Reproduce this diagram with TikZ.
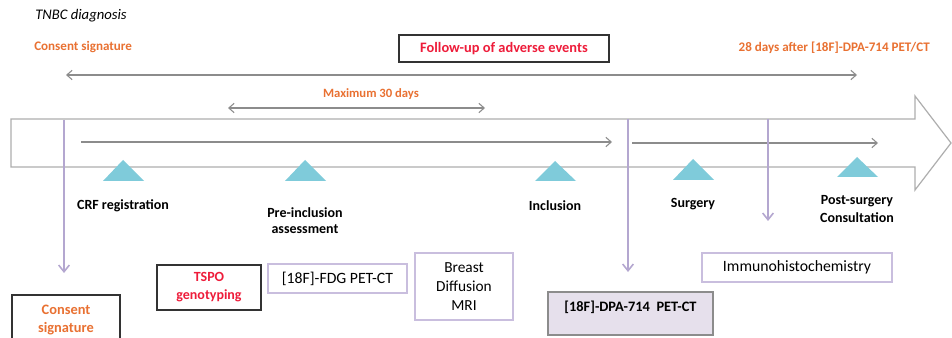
\documentclass[tikz,border=0pt]{standalone}
\usepackage{fontspec}
\setmainfont{Carlito}
\usetikzlibrary{arrows.meta}
\definecolor{orng}{HTML}{E97132}
\definecolor{redt}{HTML}{EE1C3A}
\definecolor{purp}{HTML}{B4A7D0}
\definecolor{purpbox}{HTML}{C9BEDE}
\definecolor{tri}{HTML}{7FCBDA}
\definecolor{gline}{HTML}{8C8C8C}
\definecolor{dpafill}{HTML}{E6E0EC}
\tikzset{
  lbl/.style={font=\fontsize{10.5}{12.5}\selectfont\bfseries, align=center, inner sep=0pt},
  otext/.style={font=\fontsize{9.8}{11}\selectfont\bfseries, text=orng, inner sep=0pt},
  gar/.style={draw=gline, line width=0.8pt, -{Straight Barb[length=4pt,width=7pt]}},
  gdar/.style={draw=gline, line width=0.8pt, {Straight Barb[length=4pt,width=7pt]}-{Straight Barb[length=4pt,width=7pt]}},
  par/.style={draw=purp, line width=1.2pt, -{Straight Barb[length=5pt,width=8pt]}},
  tribox/.style={fill=tri, draw=none},
  pbox/.style={draw=purpbox, line width=0.9pt, align=center, inner sep=0pt, font=\fontsize{11.8}{14}\selectfont},
  kbox/.style={draw=black!80, line width=1pt, align=center, inner sep=0pt},
}
\begin{document}
\begin{tikzpicture}[x=0.75pt,y=-0.75pt]
\clip (0,0) rectangle (952,338);
\fill[white] (0,0) rectangle (952,338);
% big timeline arrow
\draw[gline!70, line width=0.9pt] (11,119) -- (915,119) -- (915,96) -- (951,143) -- (915,190) -- (915,167) -- (11,167) -- cycle;
% top texts
\node[font=\fontsize{11}{12}\selectfont\itshape, anchor=west, inner sep=0pt] (tnbc) at (35,16) {TNBC diagnosis};
\node[otext, anchor=west] (cons) at (34,47) {Consent signature};
\node[otext, anchor=east] (d28) at (930,48) {28 days after [18F]-DPA-714 PET/CT};
\node[kbox, minimum width=157.5pt, minimum height=20.25pt, font=\fontsize{10.8}{12}\selectfont\bfseries, text=redt] (follow) at (504,48.5) {Follow-up of adverse events};
\node[otext, font=\fontsize{9.5}{11}\selectfont\bfseries] (max30) at (371,94) {Maximum 30 days};
% double arrows
\coordinate (da1) at (66,75);
\coordinate (da2) at (857,75);
\draw[gdar] (da1) -- (da2);
\coordinate (db1) at (228,108);
\coordinate (db2) at (485,108);
\draw[gdar] (db1) -- (db2);
% inner arrows
\coordinate (ia1) at (81,142);
\coordinate (ia2) at (612,142);
\draw[gar] (ia1) -- (ia2);
\coordinate (ib1) at (632,143);
\coordinate (ib2) at (878,143);
\draw[gar] (ib1) -- (ib2);
% triangles
\fill[tribox] (103,181) -- (123,160) -- (144,181) -- cycle;
\fill[tribox] (285,181) -- (305,160) -- (326,181) -- cycle;
\fill[tribox] (535,181) -- (555,161) -- (576,181) -- cycle;
\fill[tribox] (673,180) -- (693,159) -- (714,180) -- cycle;
\fill[tribox] (837,177) -- (857,157) -- (878,177) -- cycle;
% labels
\node[lbl] (crf) at (123,206) {CRF registration};
\node[lbl, font=\fontsize{10.5}{12}\selectfont\bfseries] (pre) at (305,221) {Pre-inclusion\\assessment};
\node[lbl] (inc) at (555,206) {Inclusion};
\node[lbl] (surg) at (693,204) {Surgery};
\node[lbl, font=\fontsize{10.5}{13.5}\selectfont\bfseries] (post) at (857,209) {Post-surgery\\Consultation};
% bottom boxes
\node[kbox, minimum width=81pt, minimum height=37.5pt, font=\fontsize{10.8}{12.8}\selectfont\bfseries, text=orng] (cbox) at (66,320) {Consent\\signature};
\node[kbox, minimum width=78pt, minimum height=33.75pt, font=\fontsize{10.5}{13.5}\selectfont\bfseries, text=redt] (tspo) at (209,287.5) {TSPO\\genotyping};
\node[pbox, minimum width=104.25pt, minimum height=21.75pt] (fdg) at (337.5,278.5) {[18F]-FDG PET-CT};
\node[pbox, minimum width=73.5pt, minimum height=50.25pt, font=\fontsize{11.5}{14}\selectfont] (mri) at (464,286.5) {Breast\\Diffusion\\MRI};
\node[draw=black!45, fill=dpafill, line width=1pt, minimum width=123.75pt, minimum height=32.25pt, inner sep=0pt, text height=7.5pt, text depth=10pt, font=\fontsize{10.8}{12}\selectfont\bfseries] (dpa) at (630.5,313.5) {[18F]-DPA-714\ \ PET-CT};
\node[pbox, minimum width=142.5pt, minimum height=21.75pt] (ihc) at (797,267.5) {Immunohistochemistry};
% purple vertical arrows
\coordinate (v1a) at (64,120);
\coordinate (v1b) at (64,273);
\draw[par] (v1a) -- (v1b);
\coordinate (v2a) at (628,119);
\coordinate (v2b) at (628,272);
\draw[par] (v2a) -- (v2b);
\coordinate (v3a) at (768,119);
\coordinate (v3b) at (768,221);
\draw[par] (v3a) -- (v3b);
\end{tikzpicture}
\end{document}
